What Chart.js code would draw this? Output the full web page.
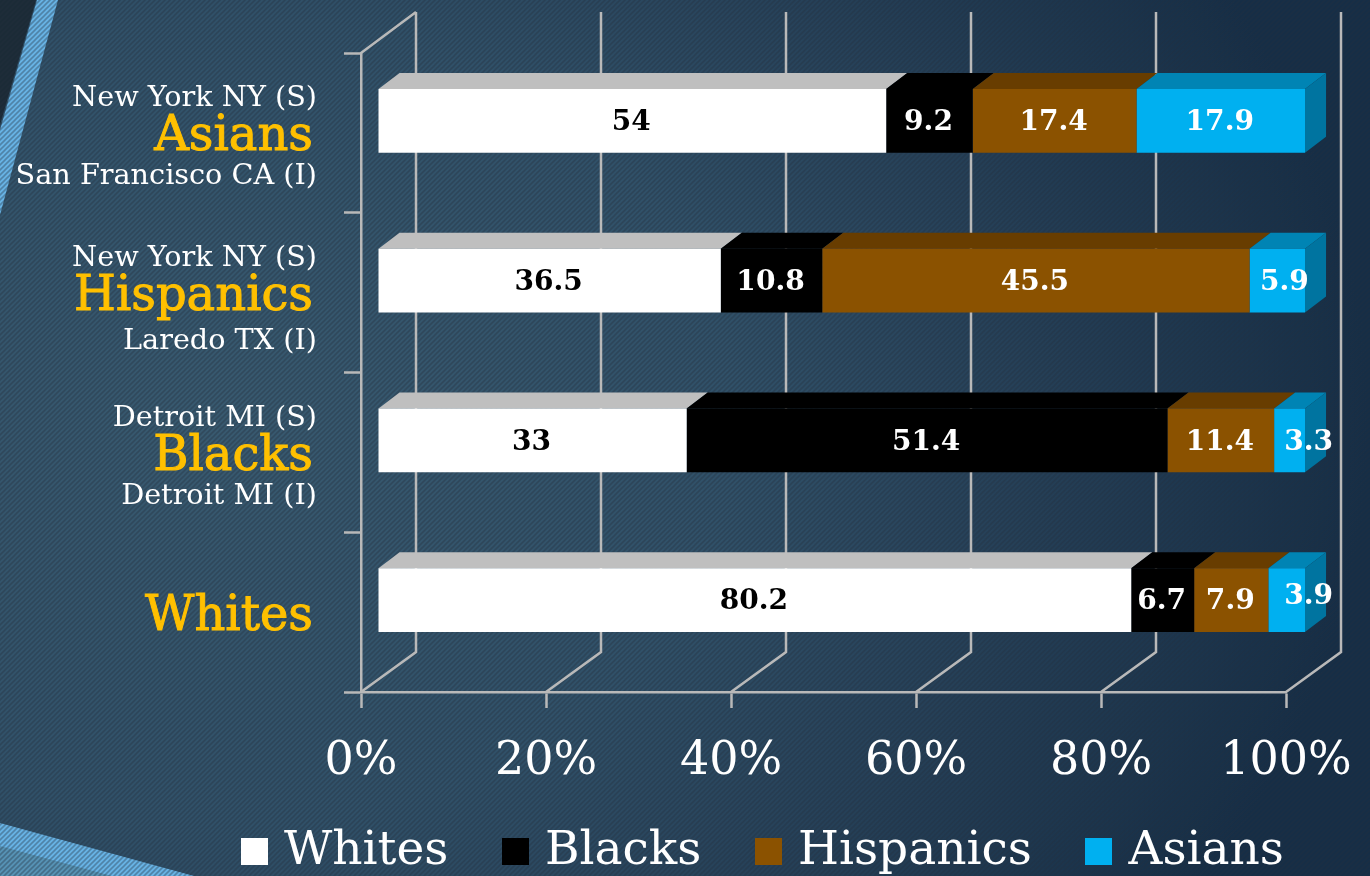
<!DOCTYPE html>
<html>
<head>
<meta charset="utf-8">
<title>Racial composition</title>
<script src="https://cdn.jsdelivr.net/npm/chart.js@4/dist/chart.umd.min.js"></script>
<style>
html,body{margin:0;padding:0;width:1370px;height:876px;overflow:hidden}
body{position:relative;background:radial-gradient(ellipse 1150px 900px at 16% 48%,#37596f 0,#2f5068 45%,#233e56 72%,#142d46 100%)}
.hatch{position:absolute;inset:0;background-size:5px 5px;background-image:url("data:image/svg+xml,%3Csvg xmlns='http://www.w3.org/2000/svg' width='5' height='5'%3E%3Cpath d='M-1 6L6 -1M-1 1L1 -1M4 6L6 4' stroke='rgb(40,48,60)' stroke-opacity='.36' stroke-width='1.6' fill='none'/%3E%3C/svg%3E")}
.deco{position:absolute;left:0;top:0;width:1370px;height:876px}
#d1{background:#1a2a36;clip-path:polygon(0 0,36px 0,0 125px)}
#d2{background:#66b2e4;clip-path:polygon(37px 0,58px 0,0 215px,0 130px)}
#d3{background:#66b2e4;clip-path:polygon(0 823px,194px 876px,0 876px)}
#d4{background:#5592b4;clip-path:polygon(0 846px,112px 876px,0 876px)}
canvas{position:absolute;left:0;top:0}
</style>
</head>
<body>
<div class="deco" id="d1"></div>
<div class="deco" id="d2"></div>
<div class="deco" id="d3"></div>
<div class="deco" id="d4"></div>
<div class="hatch"></div>
<canvas id="c" width="1370" height="876"></canvas>
<script>
const categories = ["Asians", "Hispanics", "Blacks", "Whites"];
const subTop = ["New York NY (S)", "New York NY (S)", "Detroit MI (S)", ""];
const subBottom = ["San Francisco CA (I)", "Laredo TX (I)", "Detroit MI (I)", ""];
const whites = [54, 36.5, 33, 80.2];
const blacks = [9.2, 10.8, 51.4, 6.7];
const hispanics = [17.4, 45.5, 11.4, 7.9];
const asians = [17.9, 5.9, 3.3, 3.9];
const seriesNames = ["Whites", "Blacks", "Hispanics", "Asians"];
const xTicks = [0, 20, 40, 60, 80, 100];

const rawSeries = [whites, blacks, hispanics, asians];
const frontColors = ["#ffffff", "#000000", "#8b5200", "#00b0f0"];
const topColors = ["#bfbfbf", "#000000", "#683d00", "#0084b4"];
const sideColor = "#0074a0";
const textColors = ["#000000", "#ffffff", "#ffffff", "#ffffff"];
const serif = "'DejaVu Serif', serif";
const GRID = "#b9b9b9";
const rowTotals = categories.map((_, i) => rawSeries.reduce((s, a) => s + a[i], 0));
const asianNudgeX = [0, 8, 20, 23];
const asianNudgeY = [0, 0, 0, -5];
const subBelowGap = [44, 49, 44, 0];
const LEGEND_PAD = 61, LEGEND_MARK_W = 12, LEGEND_SWATCH = 27;

const swatches = frontColors.map(col => {
  const cv = document.createElement("canvas");
  cv.width = LEGEND_SWATCH; cv.height = LEGEND_SWATCH;
  const g = cv.getContext("2d");
  g.fillStyle = col;
  g.fillRect(0, 0, LEGEND_SWATCH, LEGEND_SWATCH);
  return cv;
});

const scene = {
  id: "scene",
  beforeUpdate(chart) {
    if (!chart.legend.__patched) {
      const fit = chart.legend.fit;
      chart.legend.fit = function () { fit.call(this); this.height = 94; };
      chart.legend.__patched = true;
    }
  },
  afterLayout(chart) {
    const l = chart.legend, w = l.right - l.left;
    l.left = 241 + (LEGEND_SWATCH - LEGEND_MARK_W) / 2 - LEGEND_PAD; l.right = l.left + w;
    l.top = 767; l.height = 109; l.bottom = 876;
    l.adjustHitBoxes();
  },
  beforeDatasetsDraw(chart) {
    const { ctx, chartArea: a, scales: { x } } = chart;
    const wx = 55, wy = 40;
    ctx.save();
    ctx.strokeStyle = GRID; ctx.lineWidth = 2.5;
    ctx.beginPath();
    xTicks.forEach(t => {
      const px = x.getPixelForValue(t);
      ctx.moveTo(px, a.bottom);
      ctx.lineTo(px + wx, a.bottom - wy);
      ctx.lineTo(px + wx, a.top - wy - 1);
    });
    ctx.moveTo(a.left, a.top);
    ctx.lineTo(a.left + wx, a.top - wy - 1);
    ctx.stroke();
    ctx.restore();

    ctx.save();
    ctx.transform(927 / 925, 0, 0, 1, 17 - 361 * 2 / 925, -12);
    const dx = 21, dy = 16;
    rawSeries.forEach((_, d) => {
      chart.getDatasetMeta(d).data.forEach(el => {
        const top = el.y - el.height / 2;
        ctx.fillStyle = topColors[d];
        ctx.beginPath();
        ctx.moveTo(el.base, top);
        ctx.lineTo(el.base + dx, top - dy);
        ctx.lineTo(el.x + dx, top - dy);
        ctx.lineTo(el.x, top);
        ctx.closePath();
        ctx.fill();
        if (d === rawSeries.length - 1) {
          ctx.fillStyle = sideColor;
          ctx.beginPath();
          ctx.moveTo(el.x, top);
          ctx.lineTo(el.x + dx, top - dy);
          ctx.lineTo(el.x + dx, top - dy + el.height);
          ctx.lineTo(el.x, top + el.height);
          ctx.closePath();
          ctx.fill();
        }
      });
    });
  },
  afterDatasetsDraw(chart) {
    const { ctx, scales: { y } } = chart;
    ctx.textAlign = "center";
    ctx.textBaseline = "middle";
    ctx.font = "bold 28px " + serif;
    rawSeries.forEach((vals, d) => {
      chart.getDatasetMeta(d).data.forEach((el, i) => {
        const nx = d === 3 ? asianNudgeX[i] : 0, ny = d === 3 ? asianNudgeY[i] : 0;
        ctx.fillStyle = textColors[d];
        ctx.fillText(String(vals[i]), (el.x + el.base) / 2 - 1 + nx, el.y + 2 + ny);
      });
    });
    ctx.restore();

    ctx.save();
    ctx.font = "28.7px " + serif;
    ctx.fillStyle = "#ffffff";
    ctx.textAlign = "right";
    ctx.textBaseline = "middle";
    categories.forEach((_, i) => {
      const c = y.getPixelForTick(i);
      if (subTop[i]) ctx.fillText(subTop[i], 317, c - 34);
      if (subBottom[i]) ctx.fillText(subBottom[i], 317, c + subBelowGap[i]);
    });
    ctx.restore();
  }
};

new Chart(document.getElementById("c"), {
  type: "bar",
  data: {
    labels: categories,
    datasets: seriesNames.map((name, d) => ({
      label: name,
      data: rawSeries[d].map((v, i) => v / rowTotals[i] * 100),
      backgroundColor: frontColors[d],
      borderWidth: 0,
      barPercentage: 0.4,
      categoryPercentage: 1,
      clip: false
    }))
  },
  options: {
    indexAxis: "y",
    responsive: false,
    animation: false,
    devicePixelRatio: 1,
    layout: { padding: { left: 0, right: 84, top: 53, bottom: 0 } },
    plugins: {
      tooltip: { enabled: false },
      legend: {
        display: true,
        position: "bottom",
        align: "start",
        labels: {
          color: "#ffffff", usePointStyle: true, pointStyleWidth: LEGEND_MARK_W, boxHeight: LEGEND_SWATCH, padding: LEGEND_PAD,
          font: { family: serif, size: 47 },
          generateLabels(chart) {
            return Chart.defaults.plugins.legend.labels.generateLabels(chart).map((it, i) => Object.assign(it, { pointStyle: swatches[i] }));
          }
        }
      }
    },
    scales: {
      x: {
        type: "linear", stacked: true, min: 0, max: 100,
        afterBuildTicks(s) { s.ticks = xTicks.map(v => ({ value: v })); },
        afterFit(s) { s.height = 90; s.paddingLeft = 0; s.paddingRight = 0; },
        grid: { drawOnChartArea: false, drawTicks: true, tickLength: 16, tickColor: GRID, tickWidth: 2.5 },
        border: { color: GRID, width: 2.5 },
        ticks: {
          color: "#ffffff", autoSkip: false, maxRotation: 0, padding: 26,
          font: { family: serif, size: 46 },
          callback: v => v + "%"
        }
      },
      y: {
        type: "category", stacked: true,
        afterFit(s) { s.width = 361; s.paddingTop = 0; s.paddingBottom = 0; },
        grid: { drawOnChartArea: false, drawTicks: true, tickLength: 17, tickColor: GRID, tickWidth: 2.5 },
        border: { color: GRID, width: 2.5 },
        ticks: { color: "#ffc000", textStrokeColor: "#ffc000", textStrokeWidth: 1, padding: 31, labelOffset: 5, font: { family: serif, size: 48 }, autoSkip: false }
      }
    }
  },
  plugins: [scene]
});
</script>
</body>
</html>
